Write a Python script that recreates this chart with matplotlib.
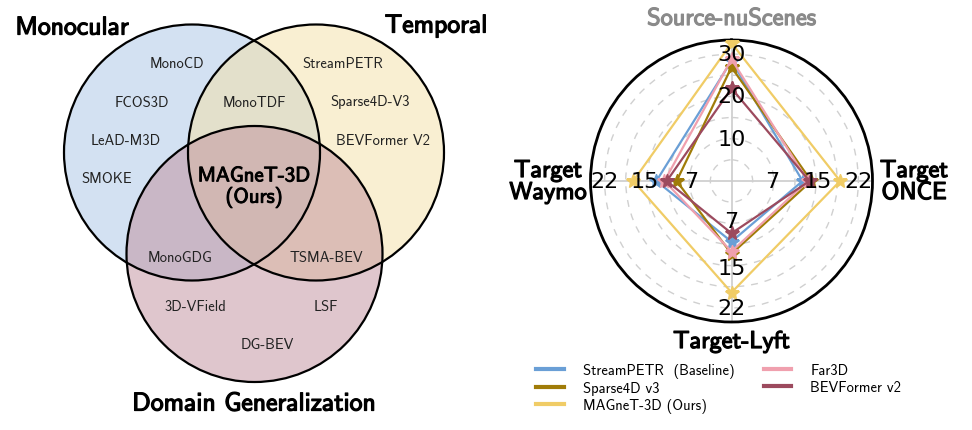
import numpy as np
import matplotlib
matplotlib.use("Agg")
import matplotlib.pyplot as plt
from matplotlib.patches import Circle
from matplotlib.lines import Line2D
import matplotlib.patheffects as pe

# ---------------- data ----------------
venn_sets = ["Monocular", "Temporal", "Domain Generalization"]
venn_colors = ["#a9c5e6", "#f4e0a6", "#c08f9c"]
mono_only = ["MonoCD", "FCOS3D", "LeAD-M3D", "SMOKE"]
temporal_only = ["StreamPETR", "Sparse4D-V3", "BEVFormer V2"]
dg_only = ["3D-VField", "LSF", "DG-BEV"]
mono_temporal = ["MonoTDF"]
mono_dg = ["MonoGDG"]
temporal_dg = ["TSMA-BEV"]
all_three = ["MAGneT-3D\n(Ours)"]

radar_axes = ["Source-nuScenes", "Target\nONCE", "Target-Lyft", "Target\nWaymo"]
axis_max = [33.33, 24.4, 24.4, 24.4]
axis_ticks = [[10, 20, 30], [7, 15, 22], [7, 15, 22], [7, 15, 22]]
methods = ["StreamPETR  (Baseline)", "Sparse4D v3", "MAGneT-3D (Ours)", "Far3D", "BEVFormer v2"]
method_colors = ["#6a9fd6", "#a07c08", "#f0cc66", "#f0a0ae", "#9c4a5e"]
streampetr = [28.4, 12.3, 10.5, 13.0]
sparse4d = [26.9, 13.8, 12.6, 9.5]
magnet3d = [32.6, 18.8, 19.3, 17.0]
far3d = [28.8, 13.2, 12.2, 11.6]
bevformer = [21.9, 13.5, 9.05, 11.2]
series = [streampetr, sparse4d, magnet3d, far3d, bevformer]
draw_order = [0, 1, 2, 3, 4]

# ---------------- figure ----------------
W, H = 972, 431
fig = plt.figure(figsize=(W / 100, H / 100), dpi=100)

SANS = ["cmss10", "DejaVu Sans"]
bold = [pe.withStroke(linewidth=0.9, foreground="black")]

# ----- Venn -----
axv = fig.add_axes([0, 0, 500 / W, 1])
axv.set_xlim(0, 500)
axv.set_ylim(431, 0)
axv.set_aspect("equal")
axv.axis("off")
R = 128
centers = [(192, 153.5), (316, 153.5), (254.5, 255)]
for (cx, cy), col in zip(centers, venn_colors):
    axv.add_patch(Circle((cx, cy), R, facecolor=col, alpha=0.5, edgecolor="none"))
for (cx, cy) in centers:
    axv.add_patch(Circle((cx, cy), R, facecolor="none", edgecolor="black", lw=1.6))

def vt(x, y, s, size=10.5, **kw):
    axv.text(x, y, s, ha="center", va="center", fontsize=size, family=SANS, color="#222222", **kw)

for s, (x, y) in zip(mono_only, [(177, 64), (142, 103), (126, 141), (107, 179)]):
    vt(x, y, s)
for s, (x, y) in zip(temporal_only, [(343, 64), (370, 102), (383, 141)]):
    vt(x, y, s)
for s, (x, y) in zip(dg_only, [(195, 307), (326, 307), (267, 345)]):
    vt(x, y, s)
vt(254, 103, mono_temporal[0])
vt(180, 258, mono_dg[0])
vt(326, 258, temporal_dg[0])
axv.text(254, 188, all_three[0], ha="center", va="center", fontsize=15, family=SANS,
         linespacing=1.05, path_effects=[pe.withStroke(linewidth=0.7, foreground="black")])
axv.text(72, 29, venn_sets[0], ha="center", va="center", fontsize=18.5, family=SANS, path_effects=bold)
axv.text(436, 27, venn_sets[1], ha="center", va="center", fontsize=18.5, family=SANS, path_effects=bold)
axv.text(254, 405, venn_sets[2], ha="center", va="center", fontsize=18.5, family=SANS, path_effects=bold)

# ----- Radar -----
cxp, cyp, rp = 731.5, 182, 141
axr = fig.add_axes([(cxp - rp) / W, 1 - (cyp + rp) / H, 2 * rp / W, 2 * rp / H], projection="polar")
axr.set_theta_offset(np.pi / 2)
axr.set_theta_direction(-1)
angles = np.arange(len(radar_axes)) * 2 * np.pi / len(radar_axes)
axr.set_ylim(0, 1)
axr.set_xticks(angles)
axr.set_xticklabels([])
axr.set_yticks([0.15, 0.3, 0.45, 0.6, 0.75, 0.9])
axr.set_yticklabels([])
axr.yaxis.grid(True, color="#d0d0d0", linestyle=(0, (5, 5)), lw=1.0)
axr.xaxis.grid(True, color="#cccccc", linestyle="-", lw=1.2)
axr.spines["polar"].set_linewidth(2.0)
axr.spines["polar"].set_color("black")

for i in draw_order:
    vals = [v / m for v, m in zip(series[i], axis_max)]
    th = np.concatenate([angles, angles[:1]])
    rr = np.concatenate([vals, vals[:1]])
    axr.plot(th, rr, color=method_colors[i], lw=1.6, marker="*", markersize=10, zorder=3 + i)

for a, ticks, m in zip(angles, axis_ticks, axis_max):
    for t in ticks:
        axr.text(a, t / m, str(t), ha="center", va="center", fontsize=16, family="DejaVu Sans", zorder=20)

lab_kw = dict(ha="center", va="center", fontsize=17.5, family=SANS, linespacing=1.0)
fig.text(cxp / W, 1 - 20 / H, radar_axes[0], color="#8a8a8a",
         path_effects=[pe.withStroke(linewidth=0.9, foreground="#8a8a8a")], **lab_kw)
fig.text(914 / W, 1 - 183 / H, radar_axes[1], path_effects=bold, **lab_kw)
fig.text(cxp / W, 1 - 343 / H, radar_axes[2], path_effects=bold, **lab_kw)
fig.text(548 / W, 1 - 183 / H, radar_axes[3], path_effects=bold, **lab_kw)

handles = [Line2D([], [], color=c, lw=3) for c in method_colors]
fig.legend(handles, methods, loc="upper left", bbox_to_anchor=(536 / W, 1 - 364 / H),
           ncol=2, frameon=False, prop={"family": SANS, "size": 10.5}, handlelength=1.9,
           handletextpad=1.3, columnspacing=2.0, labelspacing=0.2, borderpad=0, borderaxespad=0)

fig.savefig("out.png", dpi=100)
